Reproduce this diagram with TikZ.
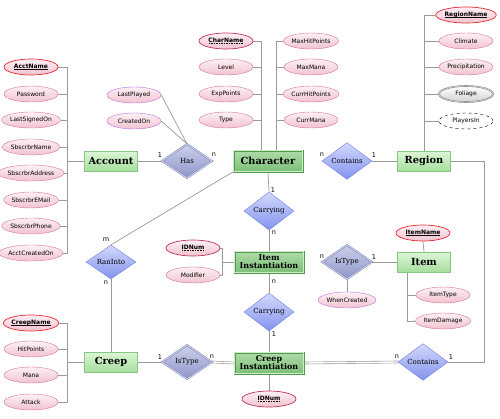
\documentclass[tikz,border=0pt]{standalone}
\usepackage{fontspec}
\usetikzlibrary{shapes.geometric,backgrounds}
\newfontfamily\attrf{DejaVu Sans}
\newfontfamily\serf{DejaVu Serif}
\newsavebox\ubox
\newcommand\solidu[1]{\sbox\ubox{#1}\rlap{\usebox\ubox}\raisebox{-1.3pt}{\rule{\wd\ubox}{0.45pt}}}
\newcommand\dashu[1]{\sbox\ubox{#1}\rlap{\usebox\ubox}\raisebox{-1.3pt}{\makebox[\wd\ubox][s]{\xleaders\hbox to 1.6pt{\hss\rule{0.9pt}{0.45pt}\hss}\hfill}}}
\definecolor{lin}{HTML}{9A9A9A}
\definecolor{pinkb}{HTML}{D9768F}
\definecolor{pinkt}{HTML}{FDF1F5}
\definecolor{pinkbot}{HTML}{F0C2D0}
\definecolor{keyb}{HTML}{E82A30}
\definecolor{pkeyb}{HTML}{C43358}
\definecolor{purpb}{HTML}{BA72E2}
\definecolor{entb}{HTML}{86C883}
\definecolor{entt}{HTML}{DDF6D6}
\definecolor{entbot}{HTML}{A7DE9F}
\definecolor{wentb}{HTML}{4F9D4C}
\definecolor{wentt}{HTML}{AEDCA8}
\definecolor{wentbot}{HTML}{7DBF78}
\definecolor{relb}{HTML}{7282E6}
\definecolor{relt}{HTML}{D2D8FB}
\definecolor{relbot}{HTML}{8393EE}
\definecolor{wrelb}{HTML}{6C76AE}
\definecolor{wrelt}{HTML}{CDD1EC}
\definecolor{wrelbot}{HTML}{8E96C8}
\tikzset{
  attr/.style={ellipse, draw=pinkb, top color=pinkt, bottom color=pinkbot, minimum width=54pt, minimum height=16pt, inner sep=0pt, font=\attrf\fontsize{6}{6.5}\selectfont},
  keyattr/.style={attr, draw=keyb, line width=0.7pt},
  pkeyattr/.style={attr, draw=pkeyb, line width=0.7pt},
  rattr/.style={attr, draw=purpb},
  mattr/.style={attr, draw=gray, double=gray!40, double distance=0.8pt, top color=white, bottom color=gray!35},
  dattr/.style={attr, draw=black, dashed, top color=white, bottom color=white},
  entity/.style={rectangle, draw=entb, top color=entt, bottom color=entbot, minimum width=53pt, minimum height=20pt, inner sep=0pt, font=\serf\bfseries\fontsize{9.8}{10.5}\selectfont, align=center},
  wentity/.style={entity, draw=wentb, top color=wentt, bottom color=wentbot, double=wentt!60, double distance=1.2pt, minimum width=69pt, minimum height=21pt, font=\serf\bfseries\fontsize{8}{9}\selectfont},
  rel/.style={diamond, draw=relb, top color=relt, bottom color=relbot, minimum width=50pt, minimum height=34pt, inner sep=0pt, font=\serf\fontsize{7}{8}\selectfont},
  wrel/.style={rel, draw=wrelb, top color=wrelt, bottom color=wrelbot, double=wrelt, double distance=1pt},
  conn/.style={draw=lin, line width=0.7pt},
  dconn/.style={draw=lin, double=white, double distance=1.4pt, line width=0.6pt},
  card/.style={font=\attrf\fontsize{6.5}{7}\selectfont, inner sep=0pt}
}
\begin{document}
\begin{tikzpicture}[x=1pt,y=-1pt]
\useasboundingbox (0,0) rectangle (500,418);
% ---- entities and relationships
\node[entity] (acct) at (111,161) {Account};
\node[wentity, font=\serf\bfseries\fontsize{9.8}{10.5}\selectfont] (char) at (268,161) {Character};
\node[entity] (reg) at (424,161) {Region};
\node[wentity] (iinst) at (269,262) {Item\\[-1pt]Instantiation};
\node[entity] (item) at (424,262) {Item};
\node[entity] (creep) at (111,362) {Creep};
\node[wentity] (cinst) at (269,363) {Creep\\[-1pt]Instantiation};

\node[wrel] (has) at (187,161) {Has};
\node[rel] (cont) at (347,161) {Contains};
\node[rel] (carry1) at (269,211) {Carrying};
\node[wrel] (istype1) at (347,262) {IsType};
\node[rel] (ran) at (111,262) {RanInto};
\node[rel] (carry2) at (269,312) {Carrying};
\node[wrel] (istype2) at (187,362) {IsType};
\node[rel] (cont2) at (423,362) {Contains};

% Account attributes
\node[keyattr] (a1) at (31,67) {\textbf{\solidu{AcctName}}};
\node[attr] (a2) at (31,94) {Password};
\node[attr] (a3) at (31,120) {LastSignedOn};
\node[attr] (a4) at (31,147) {SbscrbrName};
\node[attr] (a5) at (31,173) {SbscrbrAddress};
\node[attr] (a6) at (31,200) {SbscrbrEMail};
\node[attr] (a7) at (31,226) {SbscrbrPhone};
\node[attr] (a8) at (31,253) {AcctCreatedOn};
% Has attributes
\node[rattr] (h1) at (134,95) {LastPlayed};
\node[rattr] (h2) at (134,121) {CreatedOn};
% Character attributes
\node[pkeyattr] (c1) at (226,41) {\textbf{\dashu{CharName}}};
\node[attr] (c2) at (226,67) {Level};
\node[attr] (c3) at (226,94) {ExpPoints};
\node[attr] (c4) at (226,120) {Type};
\node[attr] (m1) at (311,41) {MaxHitPoints};
\node[attr] (m2) at (311,67) {MaxMana};
\node[attr] (m3) at (311,94) {CurrHitPoints};
\node[attr] (m4) at (311,120) {CurrMana};
% Region attributes
\node[keyattr] (r1) at (466,15) {\textbf{\solidu{RegionName}}};
\node[attr] (r2) at (466,41) {Climate};
\node[attr] (r3) at (466,67) {Precipitation};
\node[mattr] (r4) at (466,94) {Foliage};
\node[dattr] (r5) at (466,121) {PlayersIn};
% Item instantiation attributes
\node[pkeyattr] (i1) at (193,248) {\textbf{\dashu{IDNum}}};
\node[attr] (i2) at (193,275) {Modifier};
\node[rattr] (w1) at (347,300) {WhenCreated};
% Item attributes
\node[keyattr] (t1) at (423,233) {\textbf{\solidu{ItemName}}};
\node[attr] (t2) at (443,295) {ItemType};
\node[attr] (t3) at (443,321) {ItemDamage};
% Creep attributes
\node[keyattr] (k1) at (31,323) {\textbf{\solidu{CreepName}}};
\node[attr] (k2) at (31,349) {HitPoints};
\node[attr] (k3) at (31,375) {Mana};
\node[attr] (k4) at (31,402) {Attack};
% Creep instantiation attribute
\node[pkeyattr] (ci1) at (269,399) {\textbf{\dashu{IDNum}}};

% bus coordinates
\coordinate (abus) at (67,161);
\coordinate (cbusl) at (261,150);
\coordinate (cbusr) at (276,150);
\coordinate (rbus) at (424,151);
\coordinate (ibus) at (222,262);
\coordinate (tbus) at (407,272);
\coordinate (kbus) at (67,362);
\coordinate (rr) at (484,161);

\begin{scope}[on background layer]
\path[conn] (acct.west) -- (abus);
\foreach \n in {a1,a2,a3,a4,a5,a6,a7,a8} {\path[conn] (\n.east) -| (abus);}
\foreach \n in {c1,c2,c3,c4} {\path[conn] (\n.east) -| (cbusl);}
\foreach \n in {m1,m2,m3,m4} {\path[conn] (\n.west) -| (cbusr);}
\foreach \n in {r1,r2,r3,r4,r5} {\path[conn] (\n.west) -| (rbus);}
\path[conn] (iinst.west) -- (ibus);
\foreach \n in {i1,i2} {\path[conn] (\n.east) -| (ibus);}
\path[conn] (t1.south) -- (item.north);
\foreach \n in {t2,t3} {\path[conn] (\n.west) -| (tbus);}
\path[conn] (creep.west) -- (kbus);
\foreach \n in {k1,k2,k3,k4} {\path[conn] (\n.east) -| (kbus);}
\path[conn] (cinst.south) -- (ci1.north);
\path[conn] (h1.east) -- (has.north);
\path[conn] (h2.east) -- (has.north);
\path[conn] (istype1.south) -- (w1.north);

\path[conn] (acct.east) -- (has.west);
\path[dconn] (has.east) -- (char.west);
\path[dconn] (char.east) -- (cont.west);
\path[conn] (cont.east) -- (reg.west);
\path[conn] (char.south) -- (carry1.north);
\path[conn] (carry1.south) -- (iinst.north);
\path[dconn] (iinst.east) -- (istype1.west);
\path[conn] (istype1.east) -- (item.west);
\path[conn] (iinst.south) -- (carry2.north);
\path[conn] (carry2.south) -- (cinst.north);
\path[conn] (char.south west) -- (ran.north);
\path[conn] (ran.south) -- (creep.north);
\path[conn] (creep.east) -- (istype2.west);
\path[dconn] (istype2.east) -- (cinst.west);
\path[dconn] (cinst.east) -- (cont2.west);
\path[conn] (reg.east) -- (rr) |- (cont2.east);
\end{scope}

% cardinalities
\node[card] (l1) at (160,155) {1};
\node[card] (l2) at (214,155) {n};
\node[card] (l3) at (322,155) {n};
\node[card] (l4) at (374,155) {1};
\node[card] (l5) at (273,190) {1};
\node[card] (l6) at (274,233) {n};
\node[card] (l7) at (322,257) {n};
\node[card] (l8) at (374,257) {1};
\node[card] (l9) at (274,282) {n};
\node[card] (l10) at (274,334) {1};
\node[card] (l11) at (106,240) {m};
\node[card] (l12) at (106,283) {n};
\node[card] (l13) at (160,357) {1};
\node[card] (l14) at (212,357) {n};
\node[card] (l15) at (397,357) {n};
\node[card] (l16) at (451,357) {1};
\end{tikzpicture}
\end{document}
